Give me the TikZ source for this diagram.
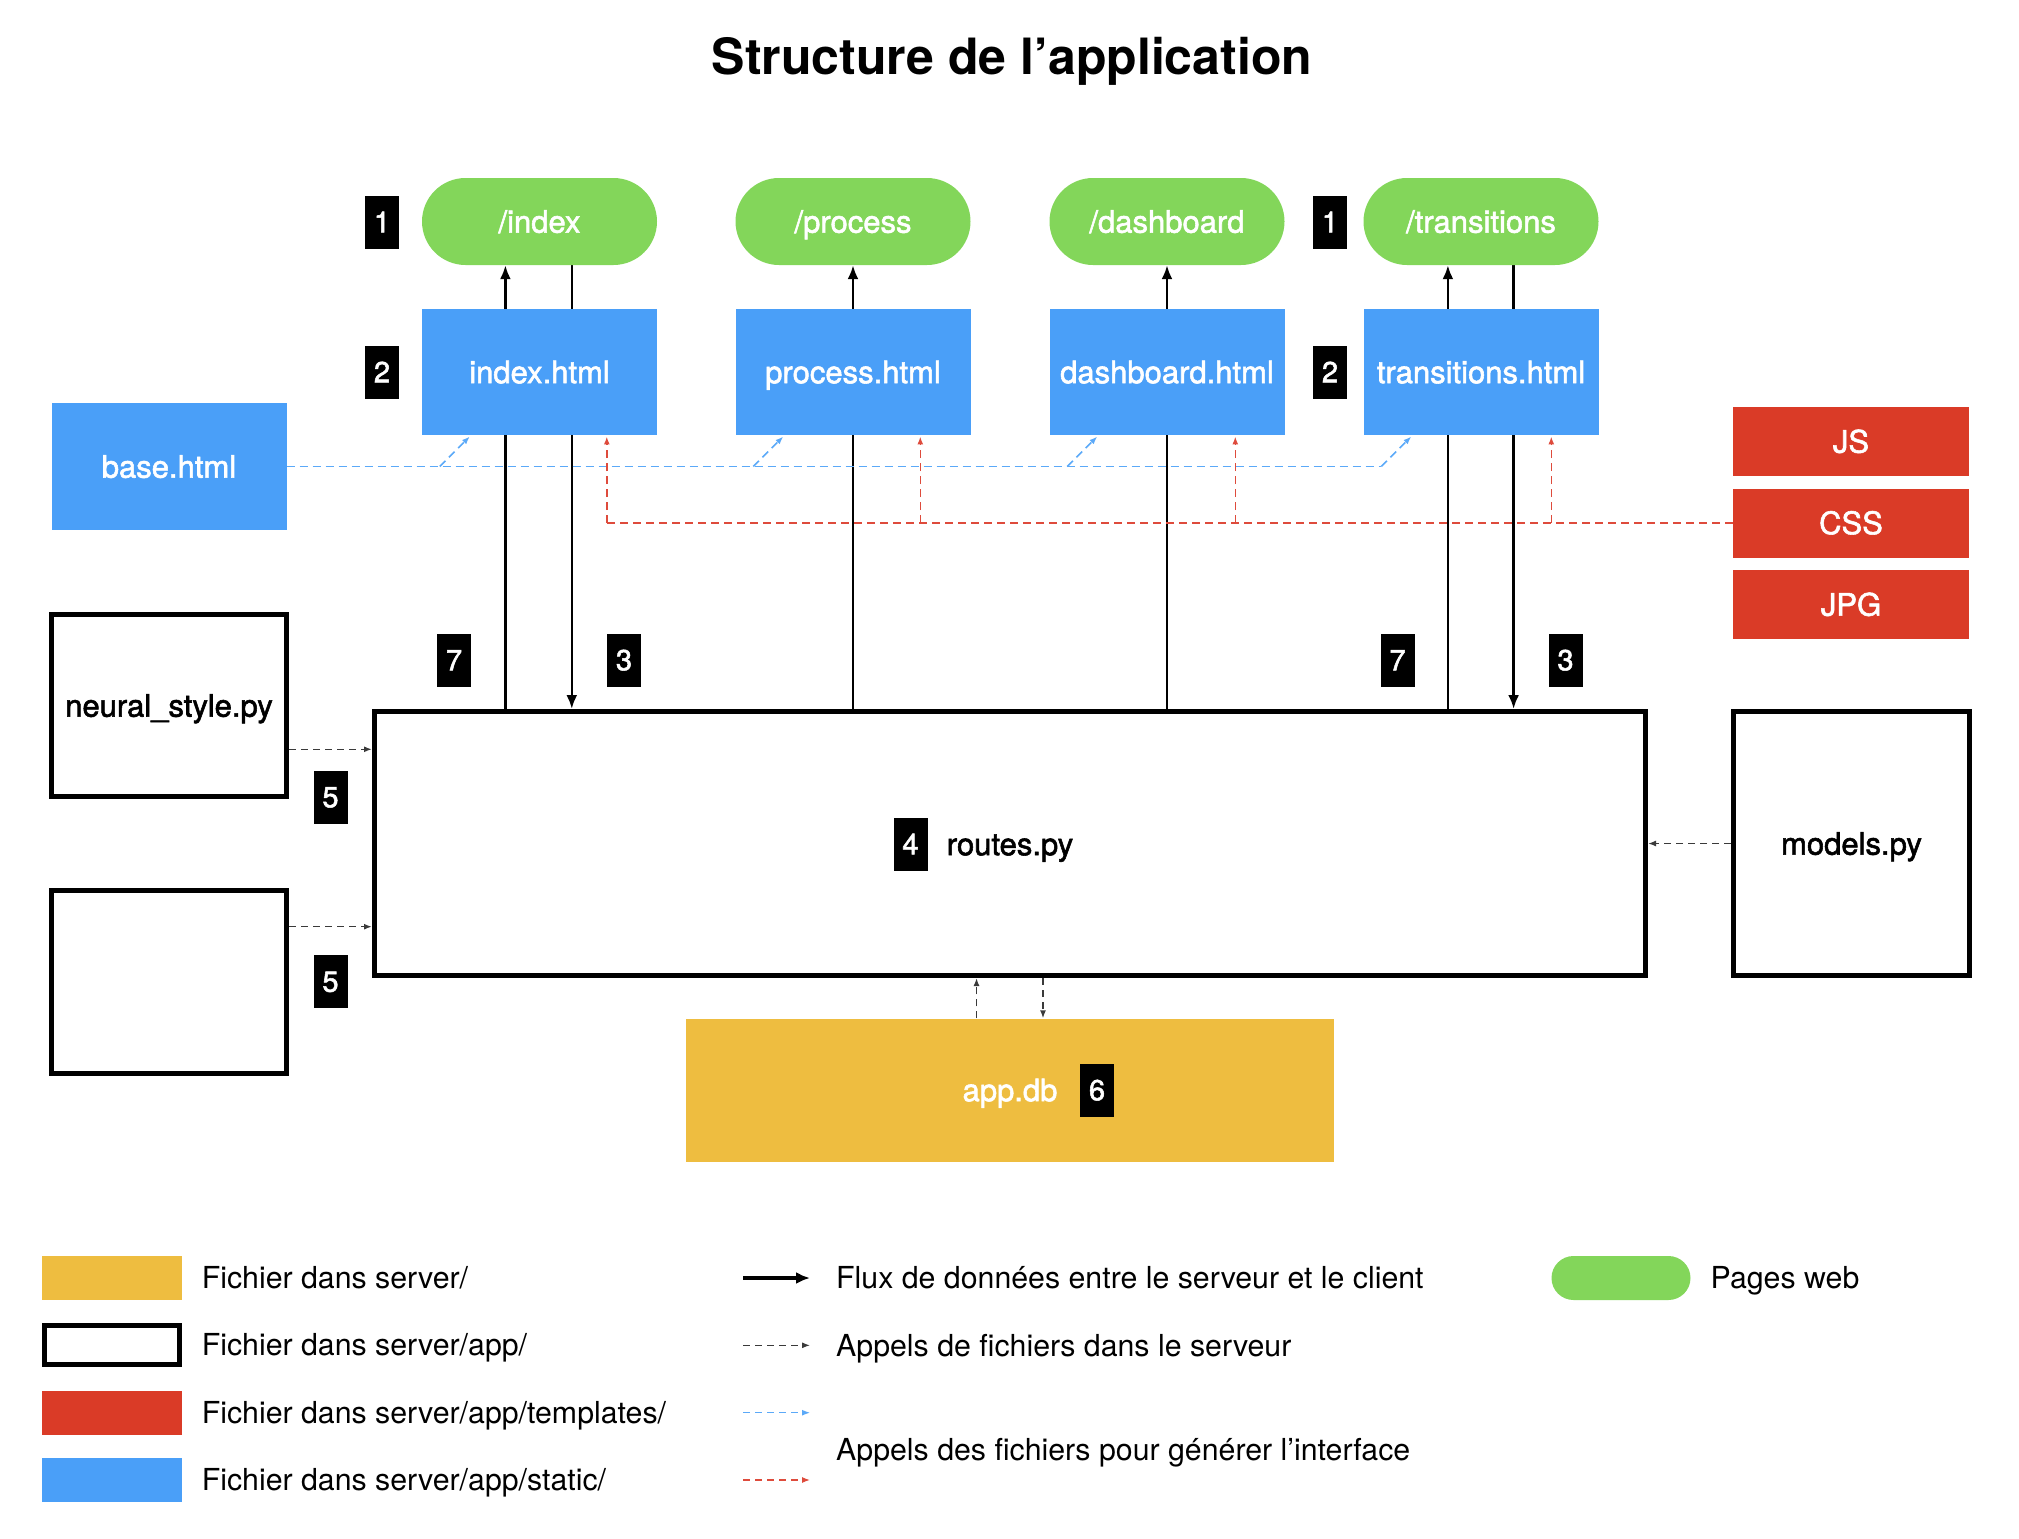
\documentclass[tikz,border=0pt]{standalone}
\usepackage{fontspec}
\setmainfont{TeX Gyre Heros}
\newfontfamily\medfont{TeX Gyre Heros}[FakeBold=1.8]
\usetikzlibrary{arrows.meta,backgrounds}
\definecolor{cgreen}{HTML}{83D65A}
\definecolor{cblue}{HTML}{4A9FF8}
\definecolor{cred}{HTML}{DA3B27}
\definecolor{cyellow}{HTML}{EEBD40}
\definecolor{cbluedash}{HTML}{5BA9F8}
\definecolor{creddash}{HTML}{DE4B3C}
\definecolor{cdark}{HTML}{3A3A3A}
\begin{document}
\begin{tikzpicture}[x=1pt,y=-1pt,
  every node/.style={inner sep=0pt},
  lbl/.style={font=\medfont\fontsize{31}{36}\selectfont, text height=22.3pt, text depth=0pt},
  pill/.style={lbl, fill=cgreen, text=white, rounded corners=43.5pt, minimum width=235pt, minimum height=87pt},
  htmlbox/.style={lbl, fill=cblue, text=white, minimum width=235pt, minimum height=126.5pt},
  tplbox/.style={lbl, fill=cred, text=white, minimum width=236pt, minimum height=69pt},
  pybox/.style={lbl, draw=black, line width=5pt, fill=white, minimum width=235pt},
  dbbox/.style={lbl, fill=cyellow, text=white, minimum width=648pt, minimum height=143pt},
  badge/.style={fill=black, text=white, minimum width=34pt, minimum height=53pt, font=\medfont\fontsize{29}{30}\selectfont, text height=20.5pt, text depth=0pt},
  legtext/.style={anchor=west, font=\fontsize{30.3}{36}\selectfont, text height=21.8pt, text depth=0pt},
  swatch/.style={minimum width=140pt, minimum height=44pt},
  flow/.style={draw=black, line width=2.6pt, -{Latex[length=14pt,width=11pt]}},
  legflow/.style={draw=black, line width=3.5pt, -{Latex[length=14pt,width=12pt]}},
  stip/.style={-{Latex[length=8pt,width=6pt]}},
  bdash/.style={draw=cbluedash, line width=1.6pt, dash pattern=on 8pt off 5pt},
  rdash/.style={draw=creddash, line width=1.6pt, dash pattern=on 8pt off 5pt},
  kdash/.style={draw=cdark, line width=1.5pt, dash pattern=on 7pt off 5pt}
]
\useasboundingbox (0,0) rectangle (2019,1539);

% title
\node[font=\bfseries\fontsize{50}{60}\selectfont, anchor=base] (title) at (1012,74) {Structure de l’application};

% pages web
\node[pill] (pIndex) at (539.5,221.5) {/index};
\node[pill] (pProcess) at (853,221.5) {/process};
\node[pill] (pDash) at (1167,221.5) {/dashboard};
\node[pill] (pTrans) at (1481,221.5) {/transitions};

% html templates
\node[htmlbox] (hIndex) at (539.5,372) {index.html};
\node[htmlbox] (hProcess) at (853,372) {process.html};
\node[htmlbox] (hDash) at (1167,372) {dashboard.html};
\node[htmlbox] (hTrans) at (1481,372) {transitions.html};
\node[htmlbox] (base) at (169,466.5) {base.html};

% static
\node[tplbox] (js) at (1851,441.5) {JS};
\node[tplbox] (css) at (1851,523) {CSS};
\node[tplbox] (jpg) at (1851,604.5) {JPG};

% python files
\node[pybox, minimum height=182pt] (neural) at (169,705.5) {neural\_style.py};
\node[pybox, minimum height=183pt] (other) at (169,982) {};
\node[pybox, minimum width=1271pt, minimum height=264pt] (routes) at (1010,843.5) {};
\node[lbl] (routeslbl) at (1010,844) {routes.py};
\node[pybox, minimum width=236pt, minimum height=264pt] (models) at (1851.5,843.5) {models.py};

% database
\node[dbbox] (appdb) at (1010,1090) {app.db};

% badges
\node[badge] (b1a) at (382,222) {1};
\node[badge] (b2a) at (382,372) {2};
\node[badge] (b1b) at (1330,222) {1};
\node[badge] (b2b) at (1330,372) {2};
\node[badge] (b7a) at (454,660) {7};
\node[badge] (b3a) at (624,660) {3};
\node[badge] (b7b) at (1397.5,660) {7};
\node[badge] (b3b) at (1565.5,660) {3};
\node[badge] (b5a) at (330.5,797) {5};
\node[badge] (b5b) at (330.5,981.5) {5};
\node[badge] (b4) at (910.5,844) {4};
\node[badge] (b6) at (1097,1090) {6};

% data flow between server and client
\coordinate (xIup) at ([xshift=83.6pt]hIndex.south west);
\coordinate (xIdn) at ([xshift=150pt]hIndex.south west);
\coordinate (xTup) at ([xshift=84.6pt]hTrans.south west);
\coordinate (xTdn) at ([xshift=150.3pt]hTrans.south west);
\begin{scope}[on background layer]
  \draw[flow] (routes.north -| xIup) -- (pIndex.south -| xIup);
  \draw[flow] (pIndex.south -| xIdn) -- (routes.north -| xIdn);
  \draw[flow] (routes.north -| hProcess.south) -- (pProcess.south);
  \draw[flow] (routes.north -| hDash.south) -- (pDash.south);
  \draw[flow] (routes.north -| xTup) -- (pTrans.south -| xTup);
  \draw[flow] (pTrans.south -| xTdn) -- (routes.north -| xTdn);
\end{scope}

% base.html -> templates
\coordinate (xbI) at ([xshift=18pt]hIndex.south west);
\coordinate (xbP) at ([xshift=18pt]hProcess.south west);
\coordinate (xbD) at ([xshift=18pt]hDash.south west);
\coordinate (xbT) at ([xshift=18pt]hTrans.south west);
\coordinate (bI) at (base.east -| xbI);
\coordinate (bP) at (base.east -| xbP);
\coordinate (bD) at (base.east -| xbD);
\coordinate (bT) at (base.east -| xbT);
\draw[bdash] (base.east) -- (bT);
\draw[bdash, stip] (bI) -- ([xshift=48pt,yshift=-1pt]hIndex.south west);
\draw[bdash, stip] (bP) -- ([xshift=48pt,yshift=-1pt]hProcess.south west);
\draw[bdash, stip] (bD) -- ([xshift=48pt,yshift=-1pt]hDash.south west);
\draw[bdash, stip] (bT) -- ([xshift=48pt,yshift=-1pt]hTrans.south west);

% static files -> templates
\coordinate (xrI) at ([xshift=185pt]hIndex.south west);
\coordinate (xrP) at ([xshift=185pt]hProcess.south west);
\coordinate (xrD) at ([xshift=186pt]hDash.south west);
\coordinate (xrT) at ([xshift=188pt]hTrans.south west);
\coordinate (rI) at (css.west -| xrI);
\coordinate (rP) at (css.west -| xrP);
\coordinate (rD) at (css.west -| xrD);
\coordinate (rT) at (css.west -| xrT);
\draw[rdash] (css.west) -- (rI);
\draw[rdash, stip] (rI) -- ([yshift=-1pt]xrI);
\draw[rdash, stip] (rP) -- ([yshift=-1pt]xrP);
\draw[rdash, stip] (rD) -- ([yshift=-1pt]xrD);
\draw[rdash, stip] (rT) -- ([yshift=-1pt]xrT);

% server file calls
\coordinate (yN) at (0,749.3);
\coordinate (yO) at (0,926.7);
\coordinate (xDbUp) at (976.5,0);
\coordinate (xDbDn) at (1043,0);
\draw[kdash, stip] (neural.east |- yN) -- (routes.west |- yN);
\draw[kdash, stip] (other.east |- yO) -- (routes.west |- yO);
\draw[kdash, stip] (models.west) -- (routes.east |- models.west);
\draw[kdash, stip] (appdb.north -| xDbUp) -- (routes.south -| xDbUp);
\draw[kdash, stip] (routes.south -| xDbDn) -- (appdb.north -| xDbDn);

% legend
\node[swatch, fill=cyellow] (lgY) at (112,1278) {};
\node[swatch, draw=black, line width=5pt, minimum width=135pt, minimum height=39pt] (lgW) at (112,1345) {};
\node[swatch, fill=cred] (lgR) at (112,1413) {};
\node[swatch, fill=cblue] (lgB) at (112,1480) {};
\node[legtext] (tY) at (201.6,1278) {Fichier dans server/};
\node[legtext] (tW) at (201.6,1345) {Fichier dans server/app/};
\node[legtext] (tR) at (201.6,1413) {Fichier dans server/app/templates/};
\node[legtext] (tB) at (201.6,1480) {Fichier dans server/app/static/};

\coordinate (la1) at (743,1278); \coordinate (la2) at (810,1278);
\coordinate (lk1) at (743,1345.3); \coordinate (lk2) at (810,1345.3);
\coordinate (lb1) at (743,1412.7); \coordinate (lb2) at (810,1412.7);
\coordinate (lr1) at (743,1480); \coordinate (lr2) at (810,1480);
\draw[legflow] (la1) -- (la2);
\draw[kdash, line width=1.2pt, dash pattern=on 7pt off 5pt, stip] (lk1) -- (lk2);
\draw[bdash, line width=1.2pt, dash pattern=on 7pt off 5pt, stip] (lb1) -- (lb2);
\draw[rdash, line width=1.2pt, dash pattern=on 7pt off 5pt, stip] (lr1) -- (lr2);
\node[legtext] (tA) at (836,1278) {Flux de données entre le serveur et le client};
\node[legtext] (tK) at (836,1345.3) {Appels de fichiers dans le serveur};
\node[legtext] (tI) at (836,1449.3) {Appels des fichiers pour générer l’interface};

\node[fill=cgreen, rounded corners=22pt, minimum width=139pt, minimum height=44pt] (lgG) at (1621,1278) {};
\node[legtext] (tG) at (1710.5,1278) {Pages web};
\end{tikzpicture}
\end{document}
